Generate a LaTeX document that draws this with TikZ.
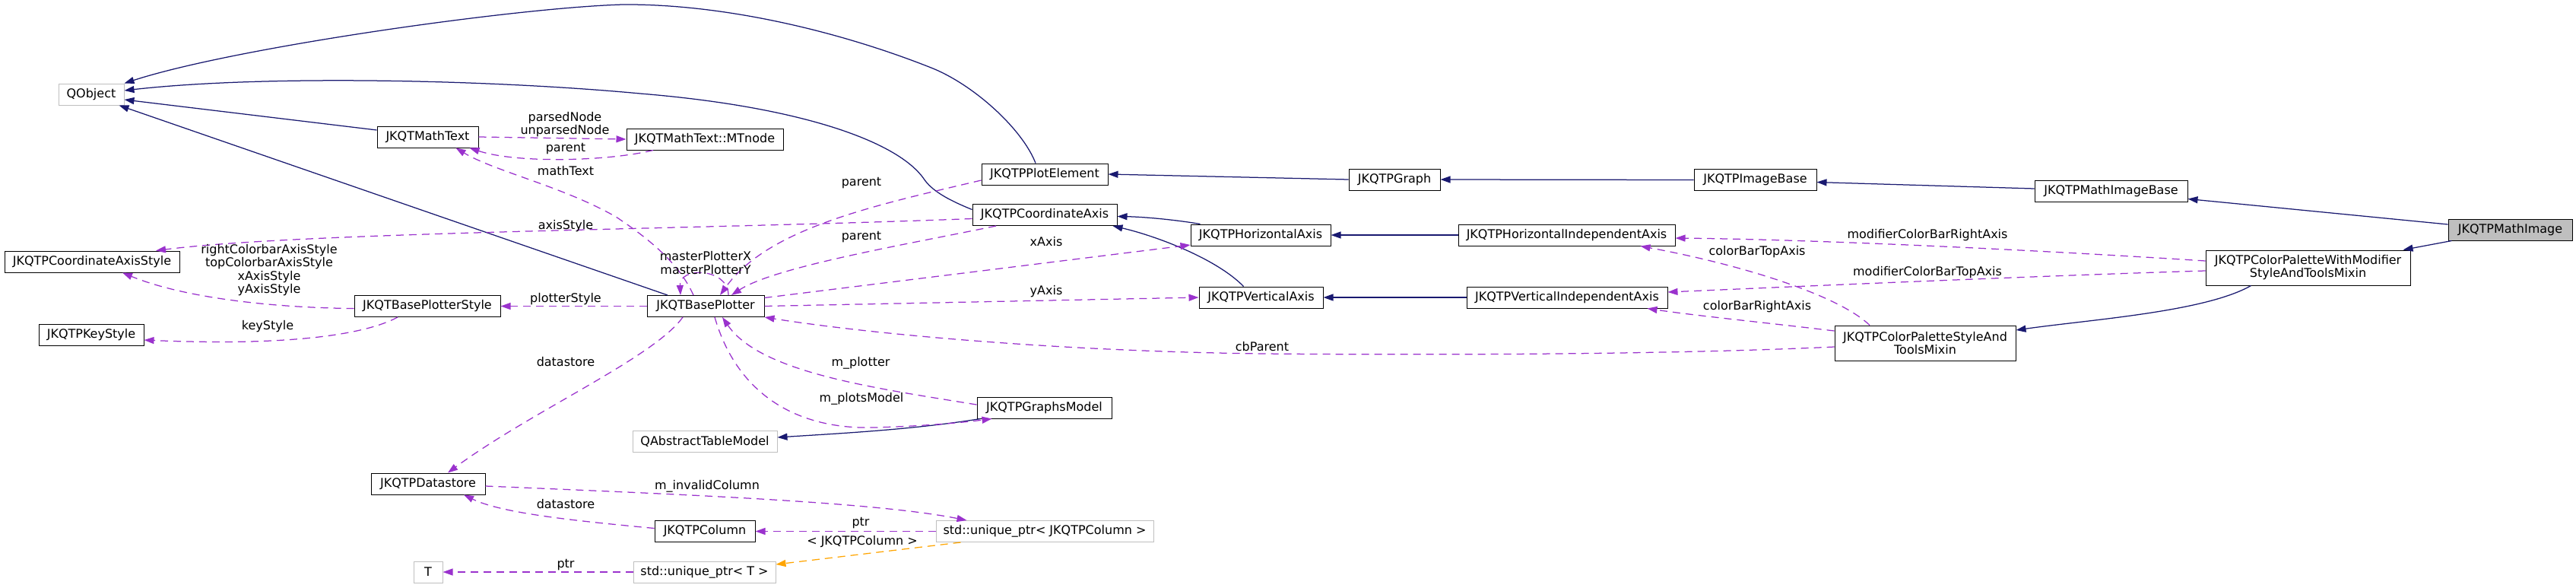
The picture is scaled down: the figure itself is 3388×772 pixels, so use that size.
\documentclass[tikz,border=0pt]{standalone}
\usepackage{fontspec}
\setmainfont{DejaVu Sans}
\usetikzlibrary{arrows.meta}
\definecolor{navy}{HTML}{191970}
\definecolor{orchid}{HTML}{9A32CD}
\definecolor{tmplorange}{HTML}{FFA500}
\definecolor{extgray}{HTML}{BFBFBF}
\tikzset{
  cls/.style={draw=black, line width=1pt, fill=white, inner sep=0pt, minimum height=28pt, align=center,
    font=\fontsize{16}{17}\selectfont},
  extcls/.style={cls, draw=extgray},
  twoline/.style={minimum height=46pt},
  inhedge/.style={draw=navy, line width=1.25pt, -{Triangle[length=13pt,width=9pt]}},
  useedge/.style={draw=orchid, line width=1.25pt, dash pattern=on 10pt off 7pt, -{Triangle[length=13pt,width=9pt]}},
  tmpledge/.style={draw=tmplorange, line width=1.25pt, dash pattern=on 10pt off 7pt, -{Triangle[length=13pt,width=9pt]}},
  lbl/.style={inner sep=0pt, align=center, font=\fontsize{16}{17.3}\selectfont}
}
\begin{document}
\begin{tikzpicture}[x=1pt,y=-1pt]
\fill[white] (0,0) rectangle (3388,772);
\useasboundingbox (0,0) rectangle (3388,772);

% nodes
\node[extcls, minimum width=86pt] (qobj) at (120,124) {QObject};
\node[cls, minimum width=133pt] (mt) at (562.5,180) {JKQTMathText};
\node[cls, minimum width=206pt] (mtn) at (927,183) {JKQTMathText::MTnode};
\node[cls, minimum width=230pt] (cas) at (121,344) {JKQTPCoordinateAxisStyle};
\node[cls, minimum width=192pt] (bps) at (562,402.5) {JKQTBasePlotterStyle};
\node[cls, minimum width=138pt] (ks) at (120,440) {JKQTPKeyStyle};
\node[cls, minimum width=154pt] (bp) at (928,402.5) {JKQTBasePlotter};
\node[cls, minimum width=150pt] (ds) at (563,636) {JKQTPDatastore};
\node[cls, minimum width=132pt] (col) at (927,698.5) {JKQTPColumn};
\node[extcls, minimum width=38pt] (tt) at (563,752) {T};
\node[extcls, minimum width=187pt] (upt) at (926.5,752) {std::unique\_ptr< T >};
\node[extcls, minimum width=190pt] (qatm) at (927,580) {QAbstractTableModel};
\node[cls, minimum width=166pt] (pe) at (1374,229) {JKQTPPlotElement};
\node[cls, minimum width=190pt] (ca) at (1374,282.5) {JKQTPCoordinateAxis};
\node[cls, minimum width=120pt] (gr) at (1834,236) {JKQTPGraph};
\node[cls, minimum width=184pt] (ha) at (1658,309) {JKQTPHorizontalAxis};
\node[cls, minimum width=285pt] (hia) at (2060.5,309) {JKQTPHorizontalIndependentAxis};
\node[cls, minimum width=163pt] (va) at (1658.5,391) {JKQTPVerticalAxis};
\node[cls, minimum width=264pt] (via) at (2061,391) {JKQTPVerticalIndependentAxis};
\node[cls, minimum width=177pt] (gm) at (1373.5,536) {JKQTPGraphsModel};
\node[extcls, minimum width=286pt] (upc) at (1374,698.5) {std::unique\_ptr< JKQTPColumn >};
\node[cls, minimum width=161pt] (ib) at (2308.5,236.5) {JKQTPImageBase};
\node[cls, minimum width=201pt] (mib) at (2776.5,251.5) {JKQTPMathImageBase};
\node[cls, minimum width=163pt, fill=extgray] (mi) at (3301.5,302) {JKQTPMathImage};
\node[cls, twoline, minimum width=269pt] (cpwm) at (3035.5,352) {JKQTPColorPaletteWithModifier\\StyleAndToolsMixin};
\node[cls, twoline, minimum width=238pt] (cpstm) at (2532,451) {JKQTPColorPaletteStyleAnd\\ToolsMixin};

% inheritance edges
\draw[inhedge] ([yshift=9pt]mt.west) -- ([yshift=-7pt]qobj.east);
\draw[inhedge] ([xshift=-50pt]bp.north) -- ([xshift=-7pt]qobj.south east);
\draw[inhedge] ([yshift=7pt]ca.west) .. controls (1245,262) and (1225,250) .. (1215,235)
   .. controls (1180,185) and (1050,140) .. (842,123)
   .. controls (650,105) and (350,98) .. ([yshift=5pt]qobj.east);
\draw[inhedge] ([xshift=-12pt]pe.north) .. controls (1345,170) and (1280,110) .. (1222,88)
   .. controls (1100,40) and (950,5) .. (819,6)
   .. controls (680,10) and (310,62) .. (qobj.north east);
\draw[inhedge] (gr.west) -- (pe.east);
\draw[inhedge] (ib.west) -- (gr.east);
\draw[inhedge] ([yshift=3.5pt]mib.west) -- ([yshift=-3pt]ib.east);
\draw[inhedge] ([yshift=7pt]mi.west) -- ([yshift=-10pt]mib.east);
\draw[inhedge] ([xshift=5pt]mi.south west) -- ([xshift=-10pt]cpwm.north east);
\draw[inhedge] ([xshift=13pt]ha.north west) .. controls (1540,288) and (1500,285) .. ([yshift=-2pt]ca.east);
\draw[inhedge] ([xshift=-23pt]va.north) .. controls (1600,340) and (1520,310) .. ([xshift=-6pt]ca.south east);
\draw[inhedge] (hia.west) -- (ha.east);
\draw[inhedge] (via.west) -- (va.east);
\draw[inhedge] ([xshift=60pt]cpwm.south west) .. controls (2900,410) and (2750,420) .. ([yshift=17pt]cpstm.east);
\draw[inhedge] ([xshift=5pt]gm.south west) .. controls (1200,565) and (1100,570) .. ([yshift=5pt]qatm.east);

% usage edges
\draw[useedge] (mt.east) -- (mtn.west);
\draw[useedge] ([xshift=-68pt]mtn.south) .. controls (800,212) and (680,215) .. ([xshift=55pt]mt.south);
\draw[useedge] ([xshift=-16pt]bp.north) .. controls (895,350) and (860,318) .. (810,285)
   .. controls (740,245) and (650,225) .. ([xshift=37pt]mt.south);
\draw[useedge] ([yshift=-3pt]bps.west) .. controls (380,405) and (250,395) .. ([xshift=40pt]cas.south);
\draw[useedge] ([yshift=-5pt]ca.west) .. controls (900,302) and (400,305) .. ([xshift=84pt]cas.north);
\draw[useedge] (bp.west) -- (bps.east);
\draw[useedge] ([xshift=-39pt]bps.south) .. controls (480,440) and (380,455) .. ([yshift=-7pt]ks.east);
\draw[useedge] ([xshift=30pt]bp.north) .. controls (958,352) and (893,350) .. ([xshift=-33pt]bp.north);
\draw[useedge] ([xshift=-64pt]ca.south) .. controls (1200,320) and (1020,350) .. ([xshift=34pt]bp.north);
\draw[useedge] ([yshift=-8pt]pe.west) .. controls (1150,270) and (1010,300) .. ([xshift=19pt]bp.north);
\draw[useedge] ([yshift=11pt]bp.east) -- ([yshift=-13pt]ha.west);
\draw[useedge] (bp.east) -- (va.west);
\draw[useedge] ([yshift=-5pt]cpstm.west) .. controls (2200,466) and (1900,467) .. (1660,465)
   .. controls (1400,462) and (1150,440) .. (bp.south east);
\draw[useedge] ([yshift=4pt]gm.west) .. controls (1150,510) and (1000,490) .. ([xshift=22pt]bp.south);
\draw[useedge] ([xshift=12pt]bp.south) .. controls (970,520) and (1050,565) .. (1150,562)
   .. controls (1220,560) and (1270,555) .. ([xshift=20pt]gm.south west);
\draw[useedge] ([xshift=-30pt]bp.south) .. controls (860,470) and (700,540) .. ([xshift=26pt]ds.north);
\draw[useedge] ([yshift=-3pt]ds.east) .. controls (900,650) and (1150,660) .. ([xshift=41pt]upc.north west);
\draw[useedge] ([yshift=4pt]col.west) .. controls (760,685) and (660,675) .. ([xshift=47pt]ds.south);
\draw[useedge] (upc.west) -- (col.east);
\draw[useedge] (upt.west) -- (tt.east);
\draw[tmpledge] ([xshift=33pt]upc.south west) -- ([yshift=10pt]upt.east);
\draw[useedge] ([yshift=9pt]cpwm.west) .. controls (2700,330) and (2400,315) .. ([yshift=-4pt]hia.east);
\draw[useedge] ([yshift=-4pt]cpwm.west) .. controls (2700,362) and (2400,375) .. ([yshift=7pt]via.east);
\draw[useedge] ([xshift=-73pt]cpstm.north) .. controls (2420,390) and (2300,350) .. ([xshift=-46pt]hia.south east);
\draw[useedge] ([yshift=16pt]cpstm.west) .. controls (2330,425) and (2230,415) .. ([xshift=-27pt]via.south east);

% labels
\node[lbl] (l1) at (743,163.5) {parsedNode\\unparsedNode};
\node[lbl] (l2) at (744,196) {parent};
\node[lbl] (l3) at (744,225) {mathText};
\node[lbl] (l4) at (744,297) {axisStyle};
\node[lbl] (l5) at (354,355) {rightColorbarAxisStyle\\topColorbarAxisStyle\\xAxisStyle\\yAxisStyle};
\node[lbl] (l6) at (928,345.5) {masterPlotterX\\masterPlotterY};
\node[lbl] (l7) at (744,393) {plotterStyle};
\node[lbl] (l8) at (352,429) {keyStyle};
\node[lbl] (l9) at (744,476) {datastore};
\node[lbl] (l10) at (930,639) {m\_invalidColumn};
\node[lbl] (l11) at (744,663) {datastore};
\node[lbl] (l12) at (744,743) {ptr};
\node[lbl] (l13) at (1133,241) {parent};
\node[lbl] (l14) at (1133,312) {parent};
\node[lbl] (l15) at (1376,318) {xAxis};
\node[lbl] (l16) at (1376,383) {yAxis};
\node[lbl] (l17) at (1132,477) {m\_plotter};
\node[lbl] (l18) at (1133,524) {m\_plotsModel};
\node[lbl] (l19) at (1660,456) {cbParent};
\node[lbl] (l20) at (1132,688) {ptr};
\node[lbl] (l21) at (1134,712) {< JKQTPColumn >};
\node[lbl] (l22) at (2535,309) {modifierColorBarRightAxis};
\node[lbl] (l23) at (2311,331) {colorBarTopAxis};
\node[lbl] (l24) at (2535,358) {modifierColorBarTopAxis};
\node[lbl] (l25) at (2311,403) {colorBarRightAxis};
\end{tikzpicture}
\end{document}
